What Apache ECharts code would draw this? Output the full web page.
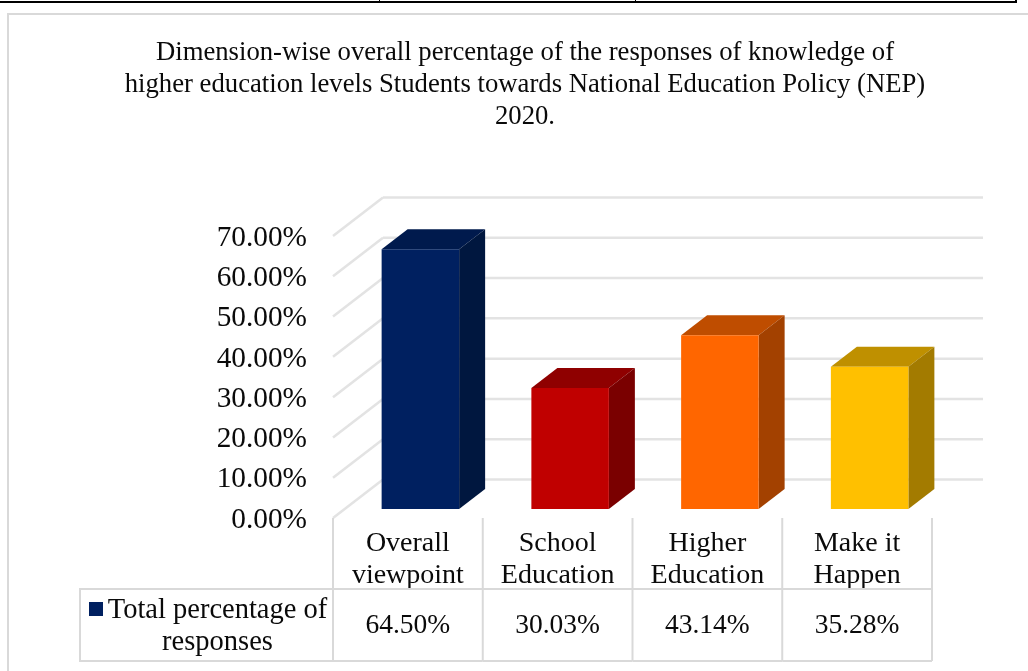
<!DOCTYPE html>
<html>
<head>
<meta charset="utf-8">
<style>html,body{margin:0;padding:0;background:#fff}#c{width:1028px;height:671px}</style>
<script src="https://cdn.jsdelivr.net/npm/echarts@6/dist/echarts.min.js"></script>
</head>
<body>
<div id="c"></div>
<script>
var titleLines = [
  'Dimension-wise overall percentage of the responses of knowledge of',
  'higher education levels Students towards National Education Policy (NEP)',
  '2020.'
];
var categories = ['Overall\nviewpoint', 'School\nEducation', 'Higher\nEducation', 'Make it\nHappen'];
var seriesName = 'Total percentage of\nresponses';
var values = [64.50, 30.03, 43.14, 35.28];
var yTicks = [0, 10, 20, 30, 40, 50, 60, 70];
var frontColors = ['#002060', '#C00000', '#FF6600', '#FFC000'];
var topColors = ['#001A4D', '#8F0000', '#BF4D00', '#BF9000'];
var sideColors = ['#00173F', '#7A0000', '#A34100', '#A37B00'];

var FONT = '"Liberation Serif", serif';
var GRID = '#e3e3e3', TABLE = '#d9d9d9';
var WALL_DX = 50, WALL_DY = 38.5;   // depth of the floor
var BAR_OFF_X = 12.5, BAR_OFF_Y = 9; // bar front face inset on the floor
var BAR_DX = 26, BAR_DY = 20;       // depth of a bar
var BAR_W = 77.5;
var TABLE_MID = 589, TABLE_BOTTOM = 661, TABLE_LEFT = 80;

var chart = echarts.init(document.getElementById('c'), null, {renderer: 'canvas'});

function poly(points, fill) {
  return {type: 'polygon', shape: {points: points}, style: {fill: fill}};
}
function seg(x1, y1, x2, y2, stroke, w) {
  return {type: 'line', shape: {x1: x1, y1: y1, x2: x2, y2: y2}, style: {stroke: stroke, lineWidth: w, fill: null}};
}

function renderWalls(params, api) {
  var cs = params.coordSys;
  var p = api.coord([0, api.value(0)]);
  var y = p[1];
  return {type: 'group', children: [
    seg(cs.x, y, cs.x + WALL_DX, y - WALL_DY, GRID, 2.5),
    seg(cs.x + WALL_DX, y - WALL_DY, cs.x + cs.width + WALL_DX + 1, y - WALL_DY, GRID, 2.5)
  ]};
}

function renderBar(params, api) {
  var i = api.value(0);
  var c = api.coord([i, api.value(1)]);
  var base = api.coord([i, 0]);
  var l = c[0] + BAR_OFF_X - BAR_W / 2, r = l + BAR_W;
  var t = c[1] - BAR_OFF_Y, b = base[1] - BAR_OFF_Y;
  return {type: 'group', children: [
    poly([[l, t], [r, t], [r + BAR_DX, t - BAR_DY], [l + BAR_DX, t - BAR_DY]], topColors[i]),
    poly([[r, t], [r + BAR_DX, t - BAR_DY], [r + BAR_DX, b - BAR_DY], [r, b]], sideColors[i]),
    poly([[l, t], [r, t], [r, b], [l, b]], frontColors[i])
  ]};
}

function renderTable(params, api) {
  var i = api.value(0);
  var c = api.coord([i, 0]);
  var w = api.size([1, 0])[0];
  var l = c[0] - w / 2, r = c[0] + w / 2;
  var kids = [
    seg(r, c[1], r, TABLE_BOTTOM, TABLE, 2),
    seg(l, TABLE_MID, r, TABLE_MID, TABLE, 2),
    seg(l, TABLE_BOTTOM, r, TABLE_BOTTOM, TABLE, 2),
    {type: 'text', style: {x: c[0], y: (TABLE_MID + TABLE_BOTTOM) / 2 + 1,
      text: api.value(1).toFixed(2) + '%', align: 'center', verticalAlign: 'middle',
      fontFamily: FONT, fontSize: 27.5, fill: '#0a0a0a'}}
  ];
  if (i === 0) kids.push(seg(l, c[1], l, TABLE_BOTTOM, TABLE, 2));
  return {type: 'group', children: kids};
}

var rows = values.map(function (v, i) { return [i, v]; });

chart.setOption({
  animation: false,
  backgroundColor: '#fff',
  title: {
    text: titleLines.join('\n'),
    left: 520, top: 32, textAlign: 'center',
    textStyle: {fontFamily: FONT, fontSize: 26.7, fontWeight: 'normal', color: '#0a0a0a', lineHeight: 32}
  },
  grid: {left: 333, top: 236, width: 599, height: 282, containLabel: false},
  xAxis: {
    type: 'category', data: categories,
    axisLine: {show: false}, axisTick: {show: false},
    axisLabel: {fontFamily: FONT, fontSize: 28, color: '#0a0a0a', lineHeight: 32, margin: 10, interval: 0}
  },
  yAxis: {
    type: 'value', min: 0, max: 70, interval: 10,
    axisLine: {show: false}, axisTick: {show: false}, splitLine: {show: false},
    axisLabel: {fontFamily: FONT, fontSize: 29.3, color: '#0a0a0a', margin: 26, verticalAlign: 'top', lineHeight: 4,
      formatter: function (v) { return v.toFixed(2) + '%'; }}
  },
  graphic: [
    {type: 'rect', shape: {x: 0, y: 1, width: 1016, height: 2}, style: {fill: '#000'}, silent: true},
    {type: 'rect', shape: {x: 1015, y: 0, width: 2, height: 3}, style: {fill: '#000'}, silent: true},
    {type: 'rect', shape: {x: 379, y: 0, width: 1, height: 1}, style: {fill: '#000'}, silent: true},
    {type: 'rect', shape: {x: 635, y: 0, width: 1, height: 1}, style: {fill: '#000'}, silent: true},
    {type: 'rect', shape: {x: 8, y: 14, width: 1040, height: 680}, style: {fill: null, stroke: '#d9d9d9', lineWidth: 2}, silent: true, z: -1},
    {type: 'rect', shape: {x: TABLE_LEFT, y: TABLE_MID, width: 253, height: TABLE_BOTTOM - TABLE_MID}, style: {fill: null, stroke: TABLE, lineWidth: 2}, silent: true},
    {type: 'rect', shape: {x: 89, y: 602, width: 14, height: 14}, style: {fill: frontColors[0]}, silent: true},
    {type: 'text', style: {x: 217.5, y: 627, text: seriesName, align: 'center', verticalAlign: 'middle',
      fontFamily: FONT, fontSize: 28.5, lineHeight: 32, fill: '#0a0a0a'}, silent: true}
  ],
  series: [
    {type: 'custom', name: 'walls', data: yTicks.map(function (t) { return [t]; }), renderItem: renderWalls, clip: false, silent: true, z: 1, encode: {y: 0}},
    {type: 'custom', name: 'table', data: rows, renderItem: renderTable, clip: false, silent: true, z: 2, encode: {x: 0, y: 1}},
    {type: 'custom', name: 'Total percentage of responses', data: rows, renderItem: renderBar, clip: false, z: 3, encode: {x: 0, y: 1}}
  ]
});
</script>
</body>
</html>
